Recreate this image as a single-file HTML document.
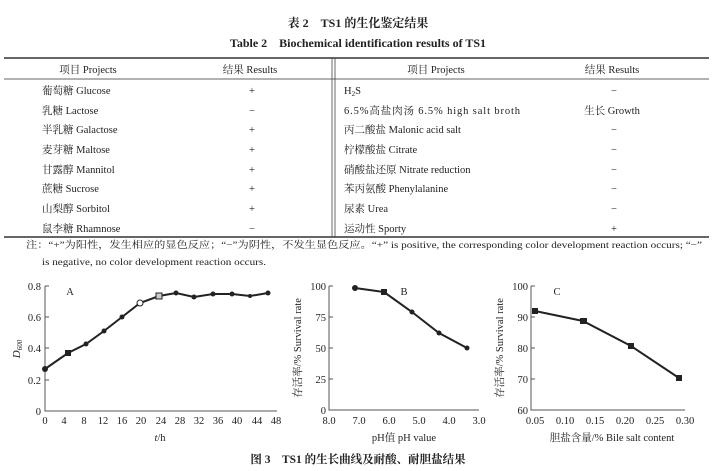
<!DOCTYPE html>
<html><head><meta charset="utf-8"><style>
body{margin:0;background:#fff}
svg{display:block}
text{font-family:"Liberation Serif","Noto Serif CJK SC",serif;fill:#222}
.s{font-size:10.5px}
.b{font-weight:bold}
</style></head><body>
<svg width="716" height="471" viewBox="0 0 716 471" xmlns="http://www.w3.org/2000/svg">
<text x="358" y="27" text-anchor="middle" class="b" font-size="12">表 2　TS1 的生化鉴定结果</text>
<text x="358" y="47" text-anchor="middle" class="b" font-size="12">Table 2　Biochemical identification results of TS1</text>
<line x1="4" y1="58" x2="709" y2="58" stroke="#333" stroke-width="1.5"/>
<line x1="4" y1="79" x2="709" y2="79" stroke="#666" stroke-width="1"/>
<line x1="4" y1="237" x2="709" y2="237" stroke="#333" stroke-width="1.5"/>
<line x1="332" y1="58" x2="332" y2="237" stroke="#444" stroke-width="0.8"/>
<line x1="335" y1="58" x2="335" y2="237" stroke="#444" stroke-width="0.8"/>
<g class="s">
<text x="88" y="73" text-anchor="middle">项目 Projects</text>
<text x="250" y="73" text-anchor="middle">结果 Results</text>
<text x="436" y="73" text-anchor="middle">项目 Projects</text>
<text x="612" y="73" text-anchor="middle">结果 Results</text>
<text x="42" y="94">葡萄糖 Glucose</text><text x="252" y="94" text-anchor="middle">+</text>
<text x="42" y="114">乳糖 Lactose</text><text x="252" y="114" text-anchor="middle">−</text>
<text x="42" y="133">半乳糖 Galactose</text><text x="252" y="133" text-anchor="middle">+</text>
<text x="42" y="153">麦芽糖 Maltose</text><text x="252" y="153" text-anchor="middle">+</text>
<text x="42" y="173">甘露醇 Mannitol</text><text x="252" y="173" text-anchor="middle">+</text>
<text x="42" y="192">蔗糖 Sucrose</text><text x="252" y="192" text-anchor="middle">+</text>
<text x="42" y="212">山梨醇 Sorbitol</text><text x="252" y="212" text-anchor="middle">+</text>
<text x="42" y="232">鼠李糖 Rhamnose</text><text x="252" y="232" text-anchor="middle">−</text>
<text x="344" y="94">H<tspan font-size="7" dy="2">2</tspan><tspan dy="-2">S</tspan></text><text x="614" y="94" text-anchor="middle">−</text>
<text x="344" y="114" textLength="176">6.5%高盐肉汤 6.5% high salt broth</text><text x="612" y="114" text-anchor="middle">生长 Growth</text>
<text x="344" y="133">丙二酸盐 Malonic acid salt</text><text x="614" y="133" text-anchor="middle">−</text>
<text x="344" y="153">柠檬酸盐 Citrate</text><text x="614" y="153" text-anchor="middle">−</text>
<text x="344" y="173">硝酸盐还原 Nitrate reduction</text><text x="614" y="173" text-anchor="middle">−</text>
<text x="344" y="192">苯丙氨酸 Phenylalanine</text><text x="614" y="192" text-anchor="middle">−</text>
<text x="344" y="212">尿素 Urea</text><text x="614" y="212" text-anchor="middle">−</text>
<text x="344" y="232">运动性 Sporty</text><text x="614" y="232" text-anchor="middle">+</text>
<text x="26" y="248" font-size="9.5" textLength="676" lengthAdjust="spacingAndGlyphs">注：“+”为阳性，发生相应的显色反应；“−”为阴性，不发生显色反应。“+” is positive, the corresponding color development reaction occurs; “−”</text>
<text x="42" y="265" font-size="9.5" textLength="224" lengthAdjust="spacingAndGlyphs">is negative, no color development reaction occurs.</text>
</g>

<!-- Chart A -->
<polyline fill="none" stroke="#555" points="45,286 45,411 277,411"/>
<g stroke="#555" stroke-width="1">
<line x1="45" y1="286" x2="49" y2="286"/><line x1="45" y1="317" x2="49" y2="317"/><line x1="45" y1="348" x2="49" y2="348"/><line x1="45" y1="380" x2="49" y2="380"/>
</g>
<g class="s" text-anchor="end" font-size="11">
<text x="41" y="290">0.8</text><text x="41" y="321">0.6</text><text x="41" y="352">0.4</text><text x="41" y="384">0.2</text><text x="41" y="415">0</text>
</g>
<g class="s" text-anchor="middle" font-size="11">
<text x="45" y="424">0</text><text x="64" y="424">4</text><text x="84" y="424">8</text><text x="103" y="424">12</text><text x="122" y="424">16</text><text x="141" y="424">20</text><text x="161" y="424">24</text><text x="180" y="424">28</text><text x="199" y="424">32</text><text x="218" y="424">36</text><text x="237" y="424">40</text><text x="257" y="424">44</text><text x="276" y="424">48</text>
<text x="160" y="441"><tspan font-style="italic">t</tspan>/h</text>
<text x="70" y="295">A</text>
</g>
<text transform="translate(20,349) rotate(-90)" text-anchor="middle" font-size="11" font-style="italic">D<tspan font-size="7" dy="2">600</tspan></text>
<polyline fill="none" stroke="#222" stroke-width="2" points="45,369 68,353 86,344 104,331 122,317 140,303 159,296 176,293 194,297 213,294 232,294 250,296 268,293"/>
<g fill="#222">
<circle cx="45" cy="369" r="3"/><rect x="65" y="350" width="6" height="6"/><circle cx="86" cy="344" r="2.5"/><circle cx="104" cy="331" r="2.5"/><circle cx="122" cy="317" r="2.5"/>
<circle cx="140" cy="303" r="3" fill="#fff" stroke="#222"/><rect x="156" y="293" width="6" height="6" fill="#ccc" stroke="#222"/><circle cx="176" cy="293" r="2.5"/><circle cx="194" cy="297" r="2.5"/><circle cx="213" cy="294" r="2.5"/><circle cx="232" cy="294" r="2.5"/><circle cx="250" cy="296" r="2"/><circle cx="268" cy="293" r="2.5"/>
</g>

<!-- Chart B -->
<polyline fill="none" stroke="#555" points="329,286 329,410 479,410"/>
<g stroke="#555"><line x1="329" y1="286" x2="333" y2="286"/><line x1="329" y1="317" x2="333" y2="317"/><line x1="329" y1="348" x2="333" y2="348"/><line x1="329" y1="379" x2="333" y2="379"/></g>
<g class="s" text-anchor="end" font-size="11">
<text x="326" y="290">100</text><text x="326" y="321">75</text><text x="326" y="352">50</text><text x="326" y="383">25</text><text x="326" y="414">0</text>
</g>
<g class="s" text-anchor="middle" font-size="11">
<text x="329" y="424">8.0</text><text x="359" y="424">7.0</text><text x="389" y="424">6.0</text><text x="419" y="424">5.0</text><text x="449" y="424">4.0</text><text x="479" y="424">3.0</text>
<text x="404" y="441">pH值 pH value</text>
<text x="404" y="295">B</text>
</g>
<text transform="translate(301,348) rotate(-90)" text-anchor="middle" font-size="10.5">存活率/%  Survival rate</text>
<polyline fill="none" stroke="#222" stroke-width="2" points="355,288 384,292 412,312 439,333 467,348"/>
<g fill="#222"><circle cx="355" cy="288" r="3"/><rect x="381" y="289" width="6" height="6"/><circle cx="412" cy="312" r="2.5"/><circle cx="439" cy="333" r="2.5"/><circle cx="467" cy="348" r="2.5"/></g>

<!-- Chart C -->
<polyline fill="none" stroke="#555" points="531,286 531,410 685,410"/>
<g stroke="#555"><line x1="531" y1="286" x2="535" y2="286"/><line x1="531" y1="317" x2="535" y2="317"/><line x1="531" y1="348" x2="535" y2="348"/><line x1="531" y1="379" x2="535" y2="379"/></g>
<g class="s" text-anchor="end" font-size="11">
<text x="528" y="290">100</text><text x="528" y="321">90</text><text x="528" y="352">80</text><text x="528" y="383">70</text><text x="528" y="414">60</text>
</g>
<g class="s" text-anchor="middle" font-size="11">
<text x="535" y="424">0.05</text><text x="565" y="424">0.10</text><text x="595" y="424">0.15</text><text x="625" y="424">0.20</text><text x="655" y="424">0.25</text><text x="685" y="424">0.30</text>
<text x="612" y="441">胆盐含量/% Bile salt content</text>
<text x="557" y="295">C</text>
</g>
<text transform="translate(503,348) rotate(-90)" text-anchor="middle" font-size="10.5">存活率/%  Survival rate</text>
<polyline fill="none" stroke="#222" stroke-width="2" points="535,311 583,321 631,346 679,378"/>
<g fill="#222"><rect x="532" y="308" width="6" height="6"/><rect x="580" y="318" width="7" height="6"/><rect x="628" y="343" width="6" height="6"/><rect x="676" y="375" width="6" height="6"/></g>

<text x="358" y="463" text-anchor="middle" class="b" font-size="11.5">图 3　TS1 的生长曲线及耐酸、耐胆盐结果</text>
</svg>
</body></html>
